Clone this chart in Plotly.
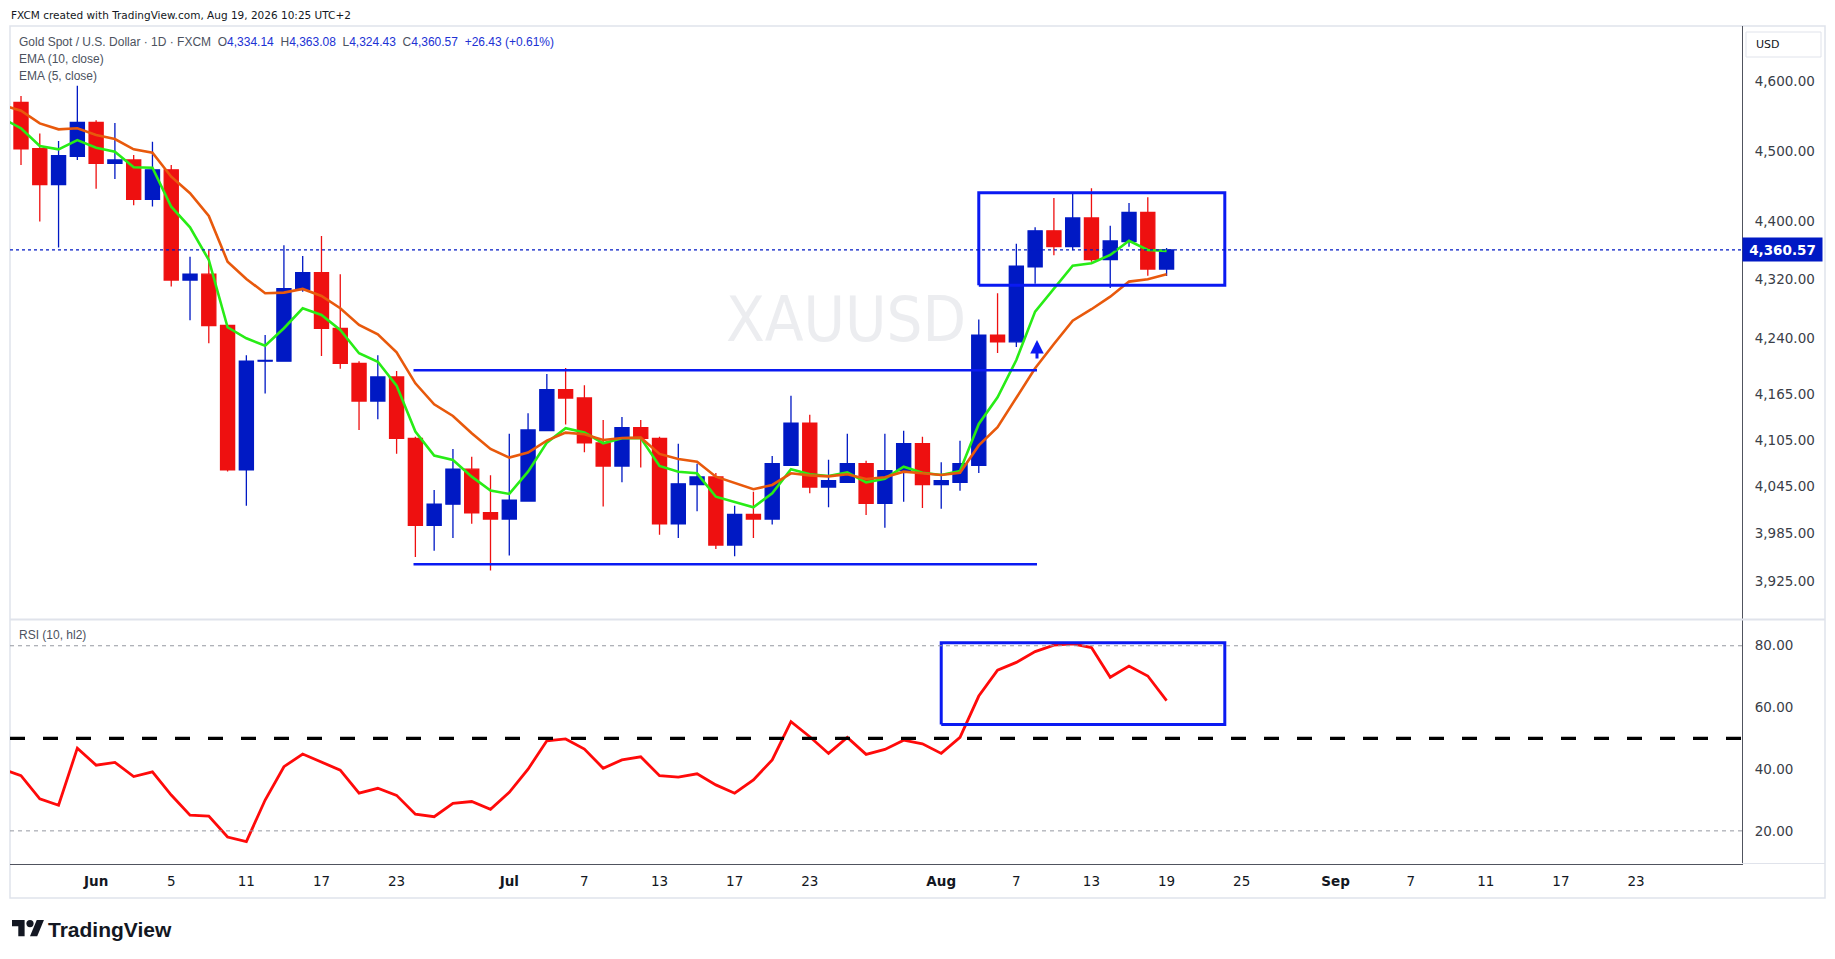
import numpy as np
import plotly.graph_objects as go

# daily bars: 26 May .. 19 Aug 2026 (index 0..61)
bar_idx = list(range(62))

opens = [4570, 4503, 4452, 4492, 4541, 4482, 4487, 4431, 4473, 4319,
         4327, 4257, 4066, 4209, 4209, 4306, 4329, 4253, 4206, 4156,
         4188, 4107, 3995, 4022, 4067, 4011, 4003, 4026, 4117, 4171,
         4160, 4101, 4071, 4121, 4107, 3997, 4047, 4057, 3970, 4009,
         4003, 4072, 4127, 4044, 4050, 4074, 4023, 4065, 4100, 4047,
         4050, 4072, 4244, 4235, 4337, 4387, 4365, 4405, 4347, 4372,
         4413, 4334.14]
highs = [4579, 4525, 4514, 4594, 4544, 4540, 4494, 4513, 4480, 4351,
         4360, 4258, 4217, 4244, 4367, 4352, 4380, 4327, 4209, 4217,
         4196, 4109, 4040, 4093, 4083, 4059, 4113, 4140, 4192, 4200,
         4177, 4131, 4135, 4131, 4109, 4100, 4074, 4062, 4020, 4038,
         4084, 4163, 4138, 4079, 4113, 4078, 4113, 4117, 4109, 4076,
         4104, 4265, 4301, 4369, 4392, 4433, 4440, 4447, 4394, 4426,
         4434, 4363.08]
lows = [4480, 4400, 4364, 4487, 4446, 4460, 4423, 4421, 4310, 4264,
        4233, 4064, 4020, 4166, 4209, 4303, 4216, 4199, 4118, 4132,
        4087, 3955, 3963, 3979, 3997, 3938, 3957, 4026, 4117, 4125,
        4089, 4019, 4050, 4069, 3983, 3979, 4013, 3965, 3956, 3979,
        3996, 4072, 4036, 4018, 4050, 4008, 3992, 4025, 4017, 4016,
        4039, 4062, 4220, 4228, 4314, 4353, 4360, 4344, 4308, 4365,
        4325, 4324.43]
closes = [4503, 4452, 4493, 4541, 4482, 4487, 4431, 4473, 4319, 4327,
          4257, 4066, 4209, 4210, 4307, 4329, 4253, 4206, 4156, 4188,
          4107, 3995, 4022, 4067, 4011, 4003, 4027, 4118, 4171, 4160,
          4101, 4071, 4121, 4107, 3997, 4048, 4057, 3970, 4009, 4003,
          4074, 4127, 4044, 4052, 4074, 4023, 4065, 4100, 4047, 4052,
          4074, 4244, 4235, 4338, 4387, 4365, 4405, 4347, 4373, 4413,
          4334.14, 4360.57]

# indicator lines also carry the bar just left of the visible window (index -1)
line_idx = list(range(-1, 62))
ema10 = [4566.0,
         4557.8, 4539.5, 4530.9, 4532.4, 4522.7, 4516.9, 4502.2, 4497.3, 4463.2, 4439.8,
         4407.8, 4344.3, 4320.5, 4300.9, 4301.7, 4306.8, 4297.2, 4280.4, 4257.7, 4245.2,
         4220.9, 4179.5, 4151.7, 4136.3, 4113.7, 4093.2, 4082.0, 4088.4, 4104.0, 4114.5,
         4112.4, 4104.9, 4107.5, 4107.9, 4086.7, 4080.2, 4076.7, 4057.3, 4048.8, 4041.1,
         4046.6, 4061.6, 4059.0, 4057.7, 4060.3, 4054.3, 4056.5, 4063.7, 4061.6, 4059.4,
         4062.4, 4097.8, 4121.5, 4159.6, 4199.5, 4232.1, 4263.6, 4279.1, 4296.2, 4316.8,
         4320.1, 4326.9]
ema5 = [4547.0,
        4532.4, 4507.0, 4502.2, 4515.5, 4504.5, 4498.8, 4476.5, 4476.0, 4420.8, 4392.0,
        4346.6, 4254.6, 4239.7, 4229.8, 4253.3, 4280.4, 4271.3, 4251.0, 4219.6, 4208.3,
        4176.4, 4115.8, 4084.5, 4078.9, 4057.3, 4039.3, 4035.1, 4063.7, 4101.4, 4120.2,
        4114.7, 4100.6, 4107.1, 4107.5, 4071.1, 4063.7, 4061.6, 4031.5, 4025.1, 4017.9,
        4035.9, 4066.8, 4060.3, 4058.1, 4062.9, 4050.0, 4054.7, 4070.2, 4062.4, 4059.4,
        4064.6, 4125.8, 4161.0, 4210.6, 4275.8, 4307.7, 4338.7, 4342.0, 4353.5, 4373.3,
        4360.4, 4359.0]
rsi10 = [40.0,
         37.9, 30.4, 28.3, 46.8, 41.3, 42.2, 37.6, 39.1, 31.6, 25.1,
         24.8, 18.0, 16.5, 30.0, 40.8, 44.9, 42.2, 39.7, 32.2, 33.8,
         31.5, 25.4, 24.6, 28.9, 29.5, 27.0, 32.5, 40.0, 49.2, 49.8,
         46.5, 40.3, 43.0, 44.0, 37.9, 37.4, 38.5, 34.9, 32.2, 36.5,
         43.0, 55.4, 50.5, 45.1, 50.3, 44.8, 46.4, 49.4, 48.2, 45.1,
         50.3, 63.7, 72.1, 74.6, 78.1, 80.2, 80.6, 79.4, 69.8, 73.4,
         70.2, 62.2]

# date axis (bar index -> label), future days continue the weekday count
tick_idx = [4, 8, 12, 16, 20, 26, 30, 34, 38, 42, 49, 53, 57, 61, 65, 70, 74, 78, 82, 86]
tick_txt = ["<b>Jun</b>", "5", "11", "17", "23", "<b>Jul</b>", "7", "13", "17", "23",
            "<b>Aug</b>", "7", "13", "19", "25", "<b>Sep</b>", "7", "11", "17", "23"]
price_ticks = [3925, 3985, 4045, 4105, 4165, 4240, 4320, 4400, 4500, 4600]
rsi_ticks = [20, 40, 60, 80]

# hand drawings on the chart
range_x = [20.9, 54.1]
range_top = 4196.8
range_bottom = 3945.8
box_x = [51.0, 64.1]
box_price = [4311.8, 4440.5]
rsi_box_x = [49.0, 64.1]
rsi_box_val = [54.5, 81.0]
arrow_x = 54.1
arrow_price = [4210.6, 4237.5]

BLUE = "#0019c4"
RED = "#ee1010"
DRAW = "#0a1af2"
GREEN = "#28ec16"
ORANGE = "#e8590c"
GRID = "#e0e3eb"
AXIS = "#50535e"
TXT = "#131722"
VAL = "#2031d4"

W, H = 1819, 943  # page body has an 8px margin


def px(x):
    return (x - 8) / W


def py(y):
    return 1 - (y - 8) / H


fig = go.Figure()

fig.add_trace(go.Candlestick(
    x=bar_idx, open=opens, high=highs, low=lows, close=closes,
    increasing=dict(line=dict(color=BLUE, width=1.3), fillcolor=BLUE),
    decreasing=dict(line=dict(color=RED, width=1.3), fillcolor=RED),
    whiskerwidth=0, xaxis="x", yaxis="y", hoverinfo="skip"))
fig.add_trace(go.Scatter(x=line_idx, y=ema5, mode="lines",
                         line=dict(color=GREEN, width=2.6), yaxis="y"))
fig.add_trace(go.Scatter(x=line_idx, y=ema10, mode="lines",
                         line=dict(color=ORANGE, width=2.6), yaxis="y"))

# range lines and the consolidation box
for lvl in [range_top, range_bottom]:
    fig.add_trace(go.Scatter(x=range_x, y=[lvl, lvl], mode="lines",
                             line=dict(color=DRAW, width=2.6), yaxis="y"))
fig.add_trace(go.Scatter(
    x=[box_x[0], box_x[1], box_x[1], box_x[0], box_x[0]],
    y=[box_price[0], box_price[0], box_price[1], box_price[1], box_price[0]],
    mode="lines", line=dict(color=DRAW, width=3), yaxis="y"))

# RSI pane
fig.add_trace(go.Scatter(x=line_idx, y=rsi10, mode="lines",
                         line=dict(color="#ff0a0a", width=2.8), yaxis="y2"))
fig.add_trace(go.Scatter(
    x=[rsi_box_x[0], rsi_box_x[1], rsi_box_x[1], rsi_box_x[0], rsi_box_x[0]],
    y=[rsi_box_val[0], rsi_box_val[0], rsi_box_val[1], rsi_box_val[1], rsi_box_val[0]],
    mode="lines", line=dict(color=DRAW, width=3), yaxis="y2"))

shapes = [
    dict(type="line", xref="x domain", yref="y2", x0=0, x1=1, y0=80, y1=80,
         line=dict(color="#9598a1", width=1, dash="4px,4px")),
    dict(type="line", xref="x domain", yref="y2", x0=0, x1=1, y0=20, y1=20,
         line=dict(color="#9598a1", width=1, dash="4px,4px")),
    dict(type="line", xref="x domain", yref="y2", x0=0, x1=1, y0=50, y1=50,
         line=dict(color="black", width=3.2, dash="15px,18px")),
    dict(type="line", xref="x domain", yref="y", x0=0, x1=1,
         y0=closes[-1], y1=closes[-1], line=dict(color=BLUE, width=1.2, dash="dot")),
    # frame and pane separator
    dict(type="rect", xref="paper", yref="paper", x0=px(10), x1=px(1825),
         y0=py(898), y1=py(26), line=dict(color=GRID, width=1.5), layer="below"),
    dict(type="line", xref="paper", yref="paper", x0=px(10), x1=px(1825),
         y0=py(619.5), y1=py(619.5), line=dict(color=GRID, width=2)),
    dict(type="line", xref="paper", yref="paper", x0=px(1742), x1=px(1825),
         y0=py(863.5), y1=py(863.5), line=dict(color=GRID, width=1)),
    dict(type="rect", xref="paper", yref="paper", x0=px(1746), x1=px(1821),
         y0=py(57), y1=py(32), line=dict(color=GRID, width=1)),
]


# TradingView logo (T, dot, slash)
def logo_pt(u, v):
    return px(12 + 0.9 * u), py(920 + 0.9 * (v - 4))


def logo_path(pts):
    s = ""
    for k, (u, v) in enumerate(pts):
        xx, yy = logo_pt(u, v)
        s += ("M" if k == 0 else "L") + f"{xx:.5f},{yy:.5f} "
    return s + "Z"


shapes.append(dict(type="path", xref="paper", yref="paper", line=dict(width=0),
                   fillcolor=TXT,
                   path=logo_path([(14, 22), (7, 22), (7, 11), (0, 11), (0, 4), (14, 4)])))
shapes.append(dict(type="path", xref="paper", yref="paper", line=dict(width=0),
                   fillcolor=TXT,
                   path=logo_path([(28, 22), (20, 22), (27.5, 4), (35.5, 4)])))
shapes.append(dict(type="circle", xref="paper", yref="paper", line=dict(width=0),
                   fillcolor=TXT, x0=px(12 + 0.9 * 16), x1=px(12 + 0.9 * 24),
                   y0=py(920 + 0.9 * 8), y1=py(920)))

leg_font = dict(family="Liberation Sans, Arial, sans-serif", size=12, color="#4c525e")
sp = "\u00a0\u00a0"


def v(t):
    return f"<span style='color:{VAL}'>{t}</span>"


legend_txt = ("Gold Spot / U.S. Dollar · 1D · FXCM" + sp + "O" + v(f"{opens[-1]:,.2f}") + sp
              + "H" + v(f"{highs[-1]:,.2f}") + sp + "L" + v(f"{lows[-1]:,.2f}") + sp
              + "C" + v(f"{closes[-1]:,.2f}") + sp
              + v(f"{closes[-1] - closes[-2]:+.2f} ({(closes[-1] / closes[-2] - 1) * 100:+.2f}%)"))

annotations = [
    dict(text="FXCM created with TradingView.com, Aug 19, 2026 10:25 UTC+2",
         xref="paper", yref="paper", x=px(9), y=py(15), xanchor="left", yanchor="middle",
         showarrow=False, font=dict(family="DejaVu Sans", size=10.5, color=TXT)),
    dict(text=legend_txt, xref="paper", yref="paper", x=px(17), y=py(42),
         xanchor="left", yanchor="middle", showarrow=False, font=leg_font),
    dict(text="EMA (10, close)", xref="paper", yref="paper", x=px(17), y=py(59),
         xanchor="left", yanchor="middle", showarrow=False, font=leg_font),
    dict(text="EMA (5, close)", xref="paper", yref="paper", x=px(17), y=py(76),
         xanchor="left", yanchor="middle", showarrow=False, font=leg_font),
    dict(text="RSI (10, hl2)", xref="paper", yref="paper", x=px(17), y=py(635),
         xanchor="left", yanchor="middle", showarrow=False, font=leg_font),
    dict(text="XAUUSD", xref="paper", yref="paper", x=px(846), y=py(319),
         xanchor="center", yanchor="middle", showarrow=False,
         font=dict(family="Liberation Sans Narrow, DejaVu Sans Condensed, Roboto",
                   size=63, color="#ecedf0")),
    dict(text="USD", xref="paper", yref="paper", x=px(1754), y=py(44.5),
         xanchor="left", yanchor="middle", showarrow=False,
         font=dict(family="DejaVu Sans", size=11, color=TXT)),
    dict(text=f"<b>{closes[-1]:,.2f}</b>", xref="paper", yref="y",
         x=px(1742), y=np.log10(closes[-1]), xanchor="left", yanchor="middle",
         showarrow=False, bgcolor=BLUE, width=75, height=19, borderpad=2,
         font=dict(family="DejaVu Sans", size=13.5, color="white")),
    dict(text="<b>TradingView</b>", xref="paper", yref="paper", x=px(46), y=py(929),
         xanchor="left", yanchor="middle", showarrow=False,
         font=dict(family="Liberation Sans, Arial", size=21, color=TXT)),
    # the little up arrow under the box
    dict(x=arrow_x, y=np.log10(arrow_price[1]), ax=arrow_x, ay=np.log10(arrow_price[0]),
         xref="x", yref="y", axref="x", ayref="y", text="", showarrow=True,
         arrowhead=2, arrowsize=0.9, arrowwidth=3, arrowcolor=DRAW, standoff=0),
]

axis_font = dict(family="DejaVu Sans", size=13.5, color="#3a3e48")

fig.update_layout(
    width=W, height=H,
    margin=dict(l=0, r=0, t=0, b=0),
    paper_bgcolor="white", plot_bgcolor="white",
    showlegend=False, boxgap=0.25, boxgroupgap=0,
    shapes=shapes, annotations=annotations,
    xaxis=dict(domain=[px(10), px(1742)], range=[-0.586, 91.64], anchor="y2",
               tickvals=tick_idx, ticktext=tick_txt, ticks="", showgrid=False,
               zeroline=False, showline=True, linecolor=AXIS, linewidth=1,
               tickfont=dict(family="DejaVu Sans", size=13.5, color=TXT),
               ticklabelstandoff=5, rangeslider=dict(visible=False)),
    yaxis=dict(type="log", domain=[py(619), py(26)],
               range=[np.log10(3877.8), np.log10(4682.2)], side="right", anchor="x",
               tickvals=price_ticks, ticktext=[f"{p:,.2f}" for p in price_ticks],
               ticks="", showgrid=False, zeroline=False, showline=True,
               linecolor=AXIS, linewidth=1, tickfont=axis_font, ticklabelstandoff=9),
    yaxis2=dict(domain=[py(863.5), py(620)], range=[9.42, 88.35], side="right",
                anchor="x", tickvals=rsi_ticks, ticktext=[f"{r:.2f}" for r in rsi_ticks],
                ticks="", showgrid=False, zeroline=False, showline=True,
                linecolor=AXIS, linewidth=1, tickfont=axis_font, ticklabelstandoff=9),
)

fig.write_html("out.html")
